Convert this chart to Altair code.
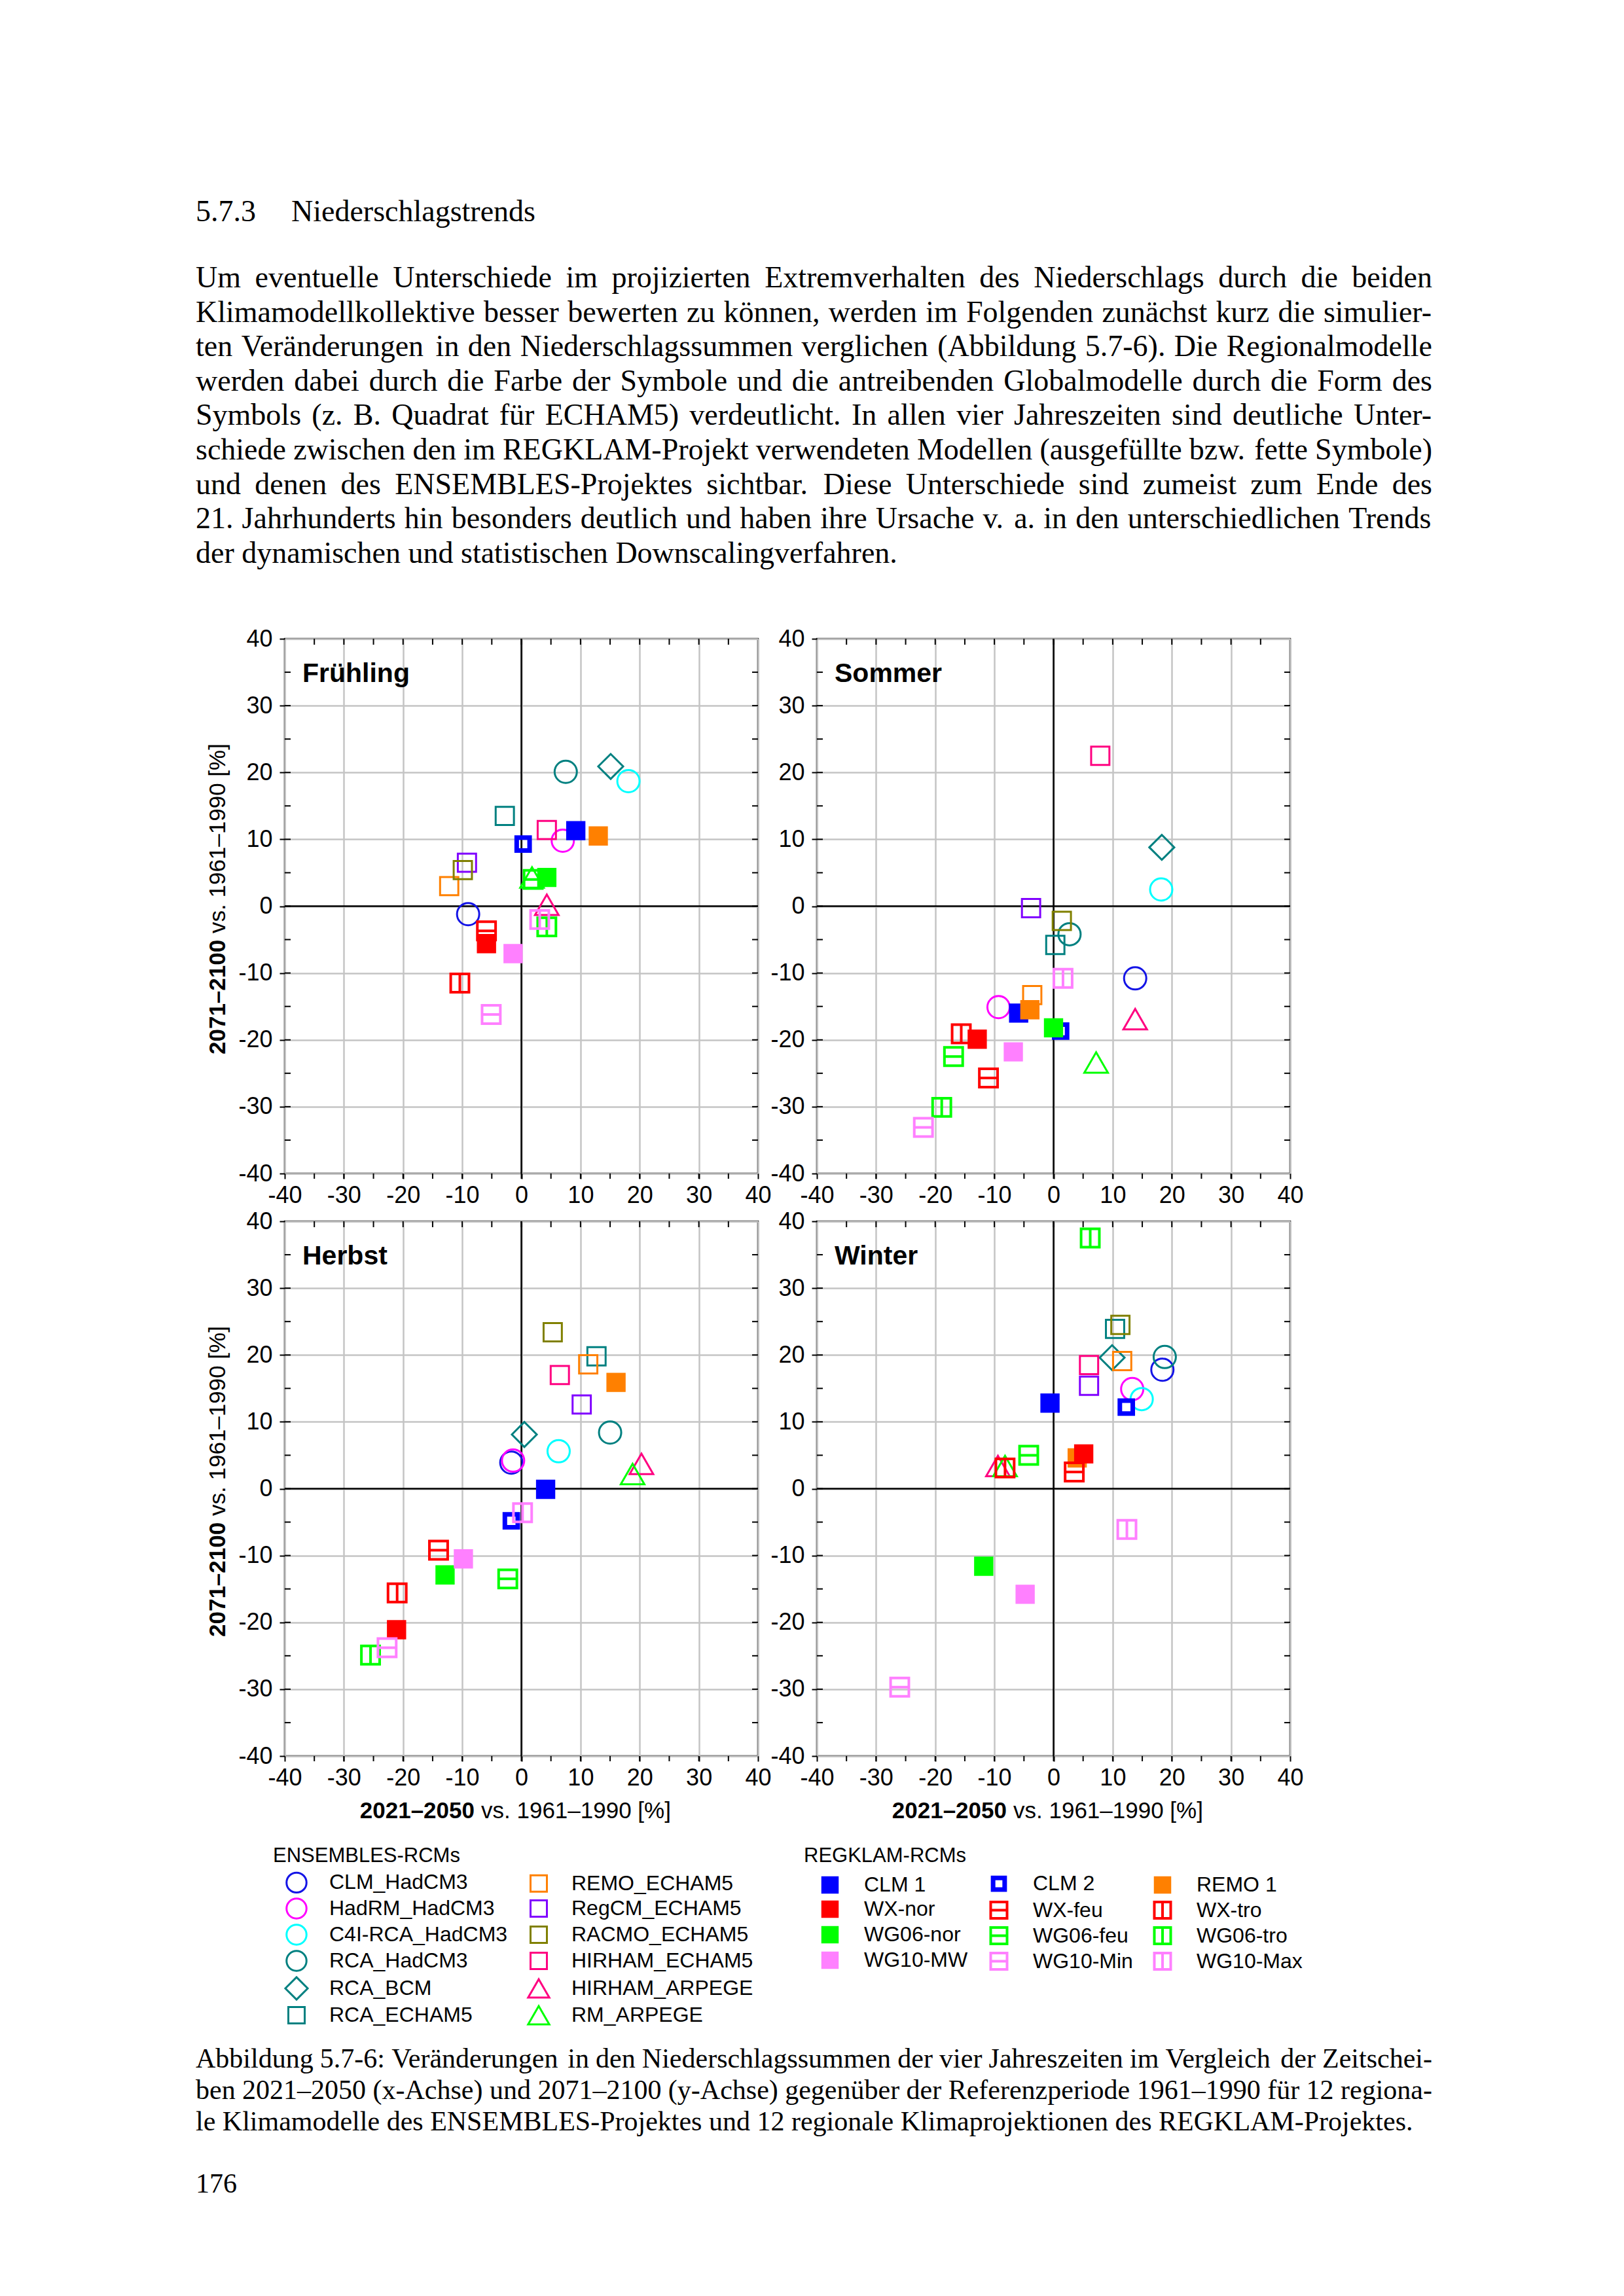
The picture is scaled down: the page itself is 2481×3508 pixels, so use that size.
import altair as alt
import pandas as pd

# ---------------- text ----------------
heading_num = "5.7.3"
heading_text = "Niederschlagstrends"
body_lines = [
    "Um eventuelle Unterschiede im projizierten Extremverhalten des Niederschlags durch die beiden",
    "Klimamodellkollektive besser bewerten zu können, werden im Folgenden zunächst kurz die simulier-",
    "ten Veränderungen in den Niederschlagssummen verglichen (Abbildung 5.7-6). Die Regionalmodelle",
    "werden dabei durch die Farbe der Symbole und die antreibenden Globalmodelle durch die Form des",
    "Symbols (z. B. Quadrat für ECHAM5) verdeutlicht. In allen vier Jahreszeiten sind deutliche Unter-",
    "schiede zwischen den im REGKLAM-Projekt verwendeten Modellen (ausgefüllte bzw. fette Symbole)",
    "und denen des ENSEMBLES-Projektes sichtbar. Diese Unterschiede sind zumeist zum Ende des",
    "21. Jahrhunderts hin besonders deutlich und haben ihre Ursache v. a. in den unterschiedlichen Trends",
    "der dynamischen und statistischen Downscalingverfahren.",
]
caption_lines = [
    "Abbildung 5.7-6: Veränderungen in den Niederschlagssummen der vier Jahreszeiten im Vergleich der Zeitschei-",
    "ben 2021–2050 (x-Achse) und 2071–2100 (y-Achse) gegenüber der Referenzperiode 1961–1990 für 12 regiona-",
    "le Klimamodelle des ENSEMBLES-Projektes und 12 regionale Klimaprojektionen des REGKLAM-Projektes.",
]
page_number = "176"
x_title_bold, x_title_rest = "2021–2050", "vs. 1961–1990 [%]"
y_title_bold, y_title_rest = "2071–2100", "vs. 1961–1990 [%]"

# ---------------- data ----------------
seasons = ["Frühling", "Sommer", "Herbst", "Winter"]
left_column = ["Frühling", "Herbst"]
bottom_row = ["Herbst", "Winter"]

ens_models = ["CLM_HadCM3", "HadRM_HadCM3", "C4I-RCA_HadCM3", "RCA_HadCM3", "RCA_BCM", "RCA_ECHAM5",
              "REMO_ECHAM5", "RegCM_ECHAM5", "RACMO_ECHAM5", "HIRHAM_ECHAM5", "HIRHAM_ARPEGE", "RM_ARPEGE"]
reg_models = ["CLM 1", "CLM 2", "REMO 1", "WX-nor", "WX-feu", "WX-tro",
              "WG06-nor", "WG06-feu", "WG06-tro", "WG10-MW", "WG10-Min", "WG10-Max"]

ens_colors = ["#1414e6", "#ff00ff", "#00ffff", "#008080", "#008080", "#008080",
              "#ff8000", "#8000ff", "#808000", "#ff0080", "#ff0080", "#00ff00"]
reg_colors = ["#0000ff", "#0000ff", "#ff8000", "#ff0000", "#ff0000", "#ff0000",
              "#00ff00", "#00ff00", "#00ff00", "#ff80ff", "#ff80ff", "#ff80ff"]

ens_symbols = ["circle", "circle", "circle", "circle", "diamond", "square",
               "square", "square", "square", "square", "triangle", "triangle"]
reg_symbols = ["filled", "bold", "filled", "filled", "feu", "tro",
               "filled", "feu", "tro", "filled", "feu", "tro"]

# Frühling
fr_ens_x = [-9.0, 7.0, 18.1, 7.5, 15.1, -2.8, -12.2, -9.2, -9.9, 4.3, 4.3, 1.8]
fr_ens_y = [-1.2, 9.8, 18.7, 20.1, 20.9, 13.5, 3.0, 6.5, 5.4, 11.4, 0.2, 4.3]
fr_reg_x = [9.2, 0.3, 13.0, -5.9, -5.9, -10.4, 4.3, 2.0, 4.3, -1.4, -5.1, 3.1]
fr_reg_y = [11.3, 9.3, 10.5, -5.6, -3.7, -11.5, 4.3, 4.0, -3.1, -7.1, -16.2, -2.0]
# Sommer
so_ens_x = [13.8, -9.3, 18.2, 2.7, 18.3, 0.3, -3.6, -3.8, 1.4, 7.9, 13.8, 7.2]
so_ens_y = [-10.8, -15.1, 2.5, -4.2, 8.8, -5.8, -13.3, -0.3, -2.2, 22.5, -16.9, -23.4]
so_reg_x = [-5.9, 1.2, -4.0, -12.9, -11.0, -15.6, 0.0, -16.9, -18.9, -6.8, -22.0, 1.6]
so_reg_y = [-16.0, -18.7, -15.5, -19.9, -25.7, -19.1, -18.2, -22.5, -30.1, -21.8, -33.1, -10.8]
# Herbst
he_ens_x = [-1.7, -1.4, 6.3, 15.0, 0.5, 12.7, 11.3, 10.2, 5.3, 6.5, 20.3, 18.8]
he_ens_y = [3.9, 4.2, 5.6, 8.4, 8.1, 19.8, 18.6, 12.6, 23.4, 17.0, 3.7, 2.2]
he_reg_x = [4.1, -1.7, 16.0, -21.1, -14.0, -21.0, -12.9, -2.3, -25.5, -9.8, -22.7, 0.2]
he_reg_y = [-0.1, -4.8, 15.9, -21.1, -9.2, -15.6, -12.9, -13.5, -24.9, -10.5, -23.8, -3.6]
# Winter
wi_ens_x = [18.4, 13.3, 14.9, 18.8, 9.9, 10.4, 11.6, 6.0, 11.3, 6.0, -9.4, -8.2]
wi_ens_y = [17.8, 14.9, 13.4, 19.7, 19.6, 23.9, 19.1, 15.4, 24.5, 18.5, 3.4, 3.4]
wi_reg_x = [-0.6, 12.3, 4.0, 5.1, 3.5, -8.2, -11.8, -4.2, 6.2, -4.8, -26.0, 12.4]
wi_reg_y = [12.8, 12.2, 4.6, 5.2, 2.5, 3.1, -11.6, 5.0, 37.5, -15.8, -29.7, -6.1]

season_data = {
    "Frühling": (fr_ens_x, fr_ens_y, fr_reg_x, fr_reg_y),
    "Sommer": (so_ens_x, so_ens_y, so_reg_x, so_reg_y),
    "Herbst": (he_ens_x, he_ens_y, he_reg_x, he_reg_y),
    "Winter": (wi_ens_x, wi_ens_y, wi_reg_x, wi_reg_y),
}

major_ticks = list(range(-40, 41, 10))
minor_ticks = list(range(-35, 36, 5))

# ---------------- styles ----------------
SQ = "M-0.82,-0.82L0.82,-0.82L0.82,0.82L-0.82,0.82Z"
PATHS = {
    "circle": "circle",
    "diamond": "M-1.12,0L0,-1.12L1.12,0L0,1.12Z",
    "triangle": "M0,-0.92L1.06,0.92L-1.06,0.92Z",
    "square": SQ,
    "filled": SQ,
    "bold": "M-0.58,-0.58L0.58,-0.58L0.58,0.58L-0.58,0.58Z",
    "feu": SQ + "M-0.82,0L0.82,0",
    "tro": SQ + "M0,-0.82L0,0.82",
}
SW = {"circle": 3, "diamond": 3, "triangle": 3, "square": 3,
      "filled": 1.5, "bold": 7, "feu": 4, "tro": 4}

ens_shapes = [PATHS[s] for s in ens_symbols]
reg_shapes = [PATHS[s] for s in reg_symbols]
ens_fills = ["transparent"] * len(ens_models)
reg_fills = [c if s == "filled" else "transparent" for c, s in zip(reg_colors, reg_symbols)]
ens_sw = [SW[s] for s in ens_symbols]
reg_sw = [SW[s] for s in reg_symbols]

all_models = ens_models + reg_models
all_colors = ens_colors + reg_colors
all_shapes = ens_shapes + reg_shapes
all_fills = ens_fills + reg_fills
all_sw = ens_sw + reg_sw

rows = []
for s in seasons:
    ex, ey, rx, ry = season_data[s]
    for m, x, y in zip(ens_models, ex, ey):
        rows.append({"kind": "pt", "season": s, "model": m, "x": x, "y": y})
    for m, x, y in zip(reg_models, rx, ry):
        rows.append({"kind": "pt", "season": s, "model": m, "x": x, "y": y})
    for t in minor_ticks:
        rows.append({"kind": "tick", "season": s, "t": t})
    rows.append({"kind": "lab", "season": s, "zero": 0,
                 "xt": s in bottom_row, "yt": s in left_column})
fdf = pd.DataFrame(rows)

W, H = 723, 817
FONT = "Liberation Sans"
SERIF = "Liberation Serif"
XS = alt.Scale(domain=[-40, 40], nice=False, zero=False)
YS = alt.Scale(domain=[-40, 40], nice=False, zero=False)


def axis_def(pad):
    return alt.Axis(values=major_ticks, grid=True, gridColor="#c4c4c4", gridWidth=2.5,
                    domain=False, ticks=True, tickSize=8, tickWidth=2, tickColor="black",
                    labelFontSize=36, labelFont=FONT, labelColor="black", labelPadding=pad,
                    labelFlush=False, labelOverlap=False, labelExpr="'' + datum.value",
                    title=None)


def X(field):
    return alt.X(field, scale=XS, axis=axis_def(8), title=None)


def Y(field):
    return alt.Y(field, scale=YS, axis=axis_def(11), title=None)


def ftext(filt, text, x, y, size, bold=False, align="left", angle=0, baseline="alphabetic"):
    kw = dict(text=text, align=align, baseline=baseline, fontSize=size, font=FONT, color="black",
              fontWeight="bold" if bold else "normal")
    if angle:
        kw["angle"] = angle
    return alt.Chart().transform_filter(filt).mark_text(**kw).encode(
        x=alt.value(x), y=alt.value(y))


is_pt = "datum.kind == 'pt'"
is_tick = "datum.kind == 'tick'"
is_lab = "datum.kind == 'lab'"
tick = dict(color="black", strokeWidth=2)
GRID_TOP = 30  # layout reserve above each panel's plot area


def panel(season):
    layers = [
        alt.Chart().transform_filter(is_lab).mark_rule(opacity=0).encode(
            x=alt.value(-136), y=alt.value(-GRID_TOP), y2=alt.value(940)),
        alt.Chart().transform_filter(is_lab).mark_rule(color="black", strokeWidth=2.5).encode(x=X("zero:Q")),
        alt.Chart().transform_filter(is_lab).mark_rule(color="black", strokeWidth=2.5).encode(y=Y("zero:Q")),
        alt.Chart().transform_filter(is_tick).mark_rule(**tick).encode(
            y=Y("t:Q"), x=alt.value(0), x2=alt.value(9)),
        alt.Chart().transform_filter(is_tick).mark_rule(**tick).encode(
            y=Y("t:Q"), x=alt.value(W - 9), x2=alt.value(W)),
        alt.Chart().transform_filter(is_tick).mark_rule(**tick).encode(
            x=X("t:Q"), y=alt.value(0), y2=alt.value(9)),
        alt.Chart().transform_filter(is_tick).mark_rule(**tick).encode(
            x=X("t:Q"), y=alt.value(H), y2=alt.value(H + 8)),
        alt.Chart().transform_filter(is_pt).mark_point(size=1156, filled=False, opacity=1).encode(
            x=X("x:Q"), y=Y("y:Q"),
            color=alt.Color("model:N", scale=alt.Scale(domain=all_models, range=all_colors), legend=None),
            fill=alt.Fill("model:N", scale=alt.Scale(domain=all_models, range=all_fills), legend=None),
            shape=alt.Shape("model:N", scale=alt.Scale(domain=all_models, range=all_shapes), legend=None),
            strokeWidth=alt.StrokeWidth("model:N", scale=alt.Scale(type="ordinal", domain=all_models, range=all_sw), legend=None),
        ),
        alt.Chart().transform_filter(is_lab).mark_text(
            align="left", baseline="alphabetic", fontSize=41, fontWeight="bold", font=FONT, color="black"
        ).encode(text="season:N", x=alt.value(27), y=alt.value(66)),
        ftext(is_lab + " && datum.xt", x_title_bold, 290, 912, 35, bold=True, align="right"),
        ftext(is_lab + " && datum.xt", x_title_rest, 300, 912, 35),
        ftext(is_lab + " && datum.yt", y_title_bold, -102, 635, 35, bold=True, angle=270, baseline="middle"),
        ftext(is_lab + " && datum.yt", y_title_rest, -102, 450, 35, angle=270, baseline="middle"),
    ]
    return alt.layer(*layers, data=fdf).transform_filter(
        alt.datum.season == season).properties(width=W, height=H)


grid = alt.concat(*[panel(s) for s in seasons], columns=2,
                  spacing={"row": 73, "column": 90}, bounds="flush")

NOVIEW = alt.ViewBackground(stroke="transparent")

# ---------------- justified text layout (Times metrics, per 1000 em) ----------------
TIMES = {" ": 250, "!": 333, "(": 333, ")": 333, ",": 250, "-": 333, ".": 250, "/": 278,
         ":": 278, ";": 278, "?": 444, "%": 833, "[": 333, "]": 333, "_": 500, "–": 500,
         "A": 722, "B": 667, "C": 667, "D": 722, "E": 611, "F": 556, "G": 722, "H": 722,
         "I": 333, "J": 389, "K": 722, "L": 611, "M": 889, "N": 722, "O": 722, "P": 556,
         "Q": 722, "R": 667, "S": 556, "T": 611, "U": 722, "V": 722, "W": 944, "X": 722,
         "Y": 722, "Z": 611, "a": 444, "b": 500, "c": 444, "d": 500, "e": 444, "f": 333,
         "g": 500, "h": 500, "i": 278, "j": 278, "k": 500, "l": 278, "m": 778, "n": 500,
         "o": 500, "p": 500, "q": 500, "r": 333, "s": 389, "t": 278, "u": 500, "v": 500,
         "w": 722, "x": 500, "y": 500, "z": 444, "ä": 444, "ö": 500, "ü": 500, "ß": 500}


def text_width(s, size):
    return sum(TIMES.get(ch, 500) for ch in s) / 1000.0 * size


def word_table(lines, size, width, n_justified, x0):
    out = []
    for i, line in enumerate(lines):
        words = line.split(" ")
        widths = [text_width(w, size) for w in words]
        if i < n_justified and len(words) > 1:
            gap = (width - sum(widths)) / (len(words) - 1)
        else:
            gap = text_width(" ", size)
        x = x0
        for w, wd in zip(words, widths):
            out.append({"word": w, "i": i, "px": x})
            x += wd + gap
    return pd.DataFrame(out)


TEXT_W = 1889


def anchor(h):
    return alt.Chart(pd.DataFrame({"a": [0]})).mark_rule(opacity=0).encode(
        x=alt.value(-136), y=alt.value(0), y2=alt.value(h))


def stext(text, x, y, size, font=SERIF):
    return alt.Chart(pd.DataFrame({"t": [text]})).mark_text(
        align="left", baseline="alphabetic", font=font, fontSize=size, color="black").encode(
        text="t:N", x=alt.value(x), y=alt.value(y))


def paragraph(lines, size, n_justified, y0, step):
    wt = word_table(lines, size, TEXT_W, n_justified, -136)
    n = len(lines) - 1
    return alt.Chart(wt).mark_text(
        align="left", baseline="alphabetic", font=SERIF, fontSize=size, color="black").encode(
        text="word:N", x=alt.X("px:Q", scale=None, axis=None),
        y=alt.Y("i:Q", scale=alt.Scale(domain=[0, n], range=[y0, y0 + n * step]), axis=None))


# ---------------- text block on top ----------------
TEXT_H = 690 - GRID_TOP
text_chart = alt.layer(
    anchor(TEXT_H), stext(heading_num, -136, 56, 46), stext(heading_text, 10, 56, 46),
    paragraph(body_lines, 46, 8, 157, 52.6)
).properties(width=1537, height=TEXT_H, view=NOVIEW)

# ---------------- legends ----------------
reg_legend_order = [reg_models[r * 3 + c] for c in range(3) for r in range(4)]


def mk_legend(cols, x, values):
    return alt.Legend(orient="none", legendX=x, legendY=49, title=None, columns=cols,
                      columnPadding=24, rowPadding=-4, symbolSize=930, labelFontSize=32,
                      labelFont=FONT, labelColor="black", labelOffset=33, labelLimit=500,
                      symbolOpacity=1, values=values, gridAlign="each")


lg_e = mk_legend(2, 1, ens_models)
lg_r = mk_legend(3, 814, reg_legend_order)
leg_ens = alt.Chart(pd.DataFrame({"ens": ens_models})).transform_filter("false").mark_point(
    filled=False, opacity=1).encode(
    color=alt.Color("ens:N", scale=alt.Scale(domain=ens_models, range=ens_colors), legend=lg_e),
    fill=alt.Fill("ens:N", scale=alt.Scale(domain=ens_models, range=ens_fills), legend=lg_e),
    shape=alt.Shape("ens:N", scale=alt.Scale(domain=ens_models, range=ens_shapes), legend=lg_e),
    strokeWidth=alt.StrokeWidth("ens:N", scale=alt.Scale(type="ordinal", domain=ens_models, range=ens_sw), legend=lg_e),
)
leg_reg = alt.Chart(pd.DataFrame({"reg": reg_models})).transform_filter("false").mark_point(
    filled=False, opacity=1).encode(
    color=alt.Color("reg:N", scale=alt.Scale(domain=reg_models, range=reg_colors), legend=lg_r),
    fill=alt.Fill("reg:N", scale=alt.Scale(domain=reg_models, range=reg_fills), legend=lg_r),
    shape=alt.Shape("reg:N", scale=alt.Scale(domain=reg_models, range=reg_shapes), legend=lg_r),
    strokeWidth=alt.StrokeWidth("reg:N", scale=alt.Scale(type="ordinal", domain=reg_models, range=reg_sw), legend=lg_r),
)
legend_chart = alt.layer(
    anchor(288), leg_ens, leg_reg,
    stext("ENSEMBLES-RCMs", -18, 35, 31, FONT),
    stext("REGKLAM-RCMs", 793, 35, 31, FONT),
).resolve_scale(color="independent", fill="independent", shape="independent",
                strokeWidth="independent").properties(width=1537, height=288, view=NOVIEW)

# ---------------- caption ----------------
caption_chart = alt.layer(
    anchor(260), paragraph(caption_lines, 42, 2, 55, 48), stext(page_number, -136, 246, 42)
).properties(width=1537, height=260, view=NOVIEW)

chart = alt.vconcat(
    text_chart, grid, legend_chart, caption_chart, spacing=0
).resolve_scale(
    color="independent", fill="independent", shape="independent", strokeWidth="independent"
).properties(
    padding={"left": 289, "top": 272, "right": 20, "bottom": 20}, background="white"
).configure_view(stroke="black", strokeWidth=2.5)

chart.save("out.html", embed_options={"renderer": "svg", "actions": False})
